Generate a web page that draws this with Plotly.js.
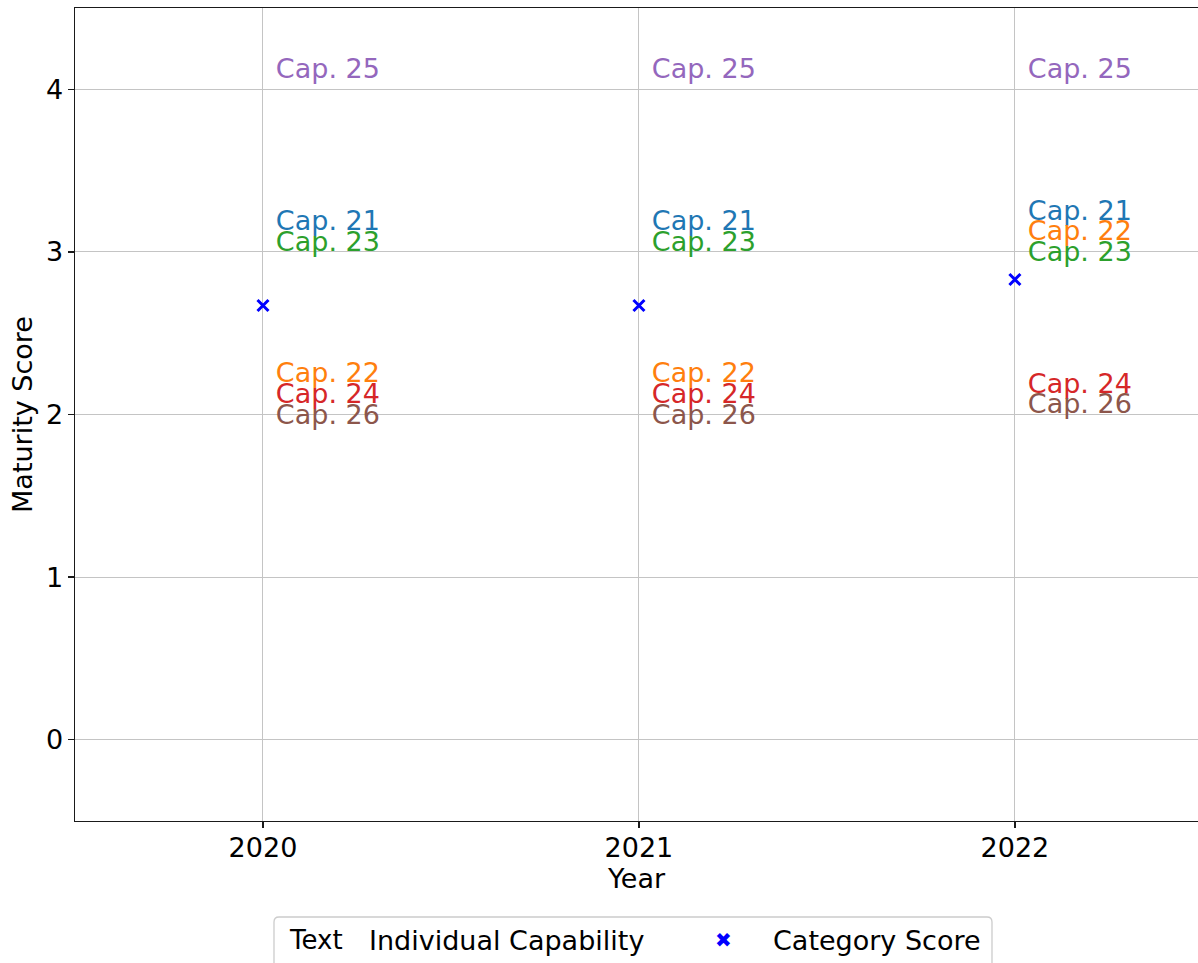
<!DOCTYPE html>
<html>
<head>
<meta charset="utf-8">
<script src="https://cdn.plot.ly/plotly-3.0.1.min.js"></script>
<style>
  html, body { margin: 0; padding: 0; background: #ffffff; }
  #chart { width: 1198px; height: 963px; }
</style>
</head>
<body>
<div id="chart"></div>
<script>
// ---- data ----
const years = [2020, 2021, 2022];
const yearLabels = ['2020', '2021', '2022'];
const capabilities = ['Cap. 21', 'Cap. 22', 'Cap. 23', 'Cap. 24', 'Cap. 25', 'Cap. 26'];
const cap21 = [3, 3, 3];
const cap22 = [2, 2, 3];
const cap23 = [3, 3, 3];
const cap24 = [2, 2, 2];
const cap25 = [4, 4, 4];
const cap26 = [2, 2, 2];
const categoryScore = [2.67, 2.67, 2.83];
const yTicks = [0, 1, 2, 3, 4];

// ---- styles ----
const capColors = ['#1f77b4', '#ff7f0e', '#2ca02c', '#d62728', '#9467bd', '#8c564b'];
const FONT = 'DejaVu Sans, sans-serif';
const FS = 27;

const capValues = [cap21, cap22, cap23, cap24, cap25, cap26];

// stack labels that share the same score in a year so they do not overlap
const STEP = 0.128;     // vertical spacing between stacked labels (data units)
const LIFT = 0.112;     // lift of the label group above its value
function labelY(capIdx, yearIdx) {
  const v = capValues[capIdx][yearIdx];
  const group = [];
  capValues.forEach((arr, i) => { if (arr[yearIdx] === v) group.push(i); });
  const n = group.length;
  const k = group.indexOf(capIdx);
  return v + LIFT + STEP * ((n - 1) / 2 - k);
}

const traces = capabilities.map((name, ci) => ({
  type: 'scatter',
  mode: 'markers+text',
  x: years,
  y: years.map((_, yi) => labelY(ci, yi)),
  text: years.map(() => name),
  textposition: 'middle right',
  textfont: { family: FONT, size: FS, color: capColors[ci] },
  marker: { size: 19, color: 'rgba(0,0,0,0)' },
  name: name,
  showlegend: false,
  hoverinfo: 'skip',
  cliponaxis: false
}));

traces.push({
  type: 'scatter',
  mode: 'markers',
  x: years,
  y: categoryScore,
  name: 'Category Score',
  marker: { symbol: 'x-thin', size: 11, color: '#0000ff', line: { width: 3, color: '#0000ff' } },
  showlegend: false
});

// pixel -> paper helpers for the hand-built legend
const W = 1198, H = 963, ML = 75, MR = 0, MT = 8, MB = 142;
const pw = W - ML - MR, ph = H - MT - MB;
const px = x => (x - ML) / pw;
const py = y => (H - MB - y) / ph;

const layout = {
  width: W,
  height: H,
  margin: { l: ML, r: MR, t: MT, b: MB, pad: 0 },
  paper_bgcolor: '#ffffff',
  plot_bgcolor: '#ffffff',
  font: { family: FONT, size: FS, color: '#000000' },
  showlegend: false,
  xaxis: {
    range: [2019.5, 2022.487],
    tickmode: 'array',
    tickvals: years,
    ticktext: yearLabels,
    showgrid: true,
    gridcolor: '#c4c4c4',
    gridwidth: 1,
    zeroline: false,
    showline: true,
    linecolor: '#1a1a1a',
    linewidth: 1.3,
    mirror: true,
    ticks: 'outside',
    ticklen: 6,
    tickwidth: 1.2,
    tickcolor: '#1a1a1a',
    ticklabelstandoff: -4,
    tickfont: { family: FONT, size: FS, color: '#000000' },
    title: { text: 'Year', font: { family: FONT, size: FS, color: '#000000' }, standoff: 4 }
  },
  yaxis: {
    range: [-0.5, 4.5],
    tickmode: 'array',
    tickvals: yTicks,
    ticktext: yTicks.map(String),
    showgrid: true,
    gridcolor: '#c4c4c4',
    gridwidth: 1,
    zeroline: false,
    showline: true,
    linecolor: '#1a1a1a',
    linewidth: 1.3,
    mirror: false,
    ticks: 'outside',
    ticklen: 6,
    tickwidth: 1.2,
    tickcolor: '#1a1a1a',
    ticklabelstandoff: -1,
    tickfont: { family: FONT, size: FS, color: '#000000' },
    title: { text: 'Maturity Score', font: { family: FONT, size: FS, color: '#000000' }, standoff: 5 }
  },
  shapes: [
    {
      type: 'path', xref: 'paper', yref: 'paper',
      path: (function () {
        const x0 = px(274), x1 = px(992), y0 = py(917), y1 = py(975);
        const rx = 5 / pw, ry = 5 / ph;
        return `M ${x0 + rx},${y0} L ${x1 - rx},${y0} Q ${x1},${y0} ${x1},${y0 - ry} L ${x1},${y1} L ${x0},${y1} L ${x0},${y0 - ry} Q ${x0},${y0} ${x0 + rx},${y0} Z`;
      })(),
      line: { color: '#cccccc', width: 1.3 },
      fillcolor: 'rgba(255,255,255,0.8)'
    }
  ],
  annotations: [
    { xref: 'paper', yref: 'paper', x: px(287), y: py(940), xanchor: 'left', yanchor: 'middle',
      text: 'Text', showarrow: false, font: { family: FONT, size: 26, color: '#000000' } },
    { xref: 'paper', yref: 'paper', x: px(367), y: py(940), xanchor: 'left', yanchor: 'middle',
      text: 'Individual Capability', showarrow: false, font: { family: FONT, size: FS, color: '#000000' } },
    { xref: 'paper', yref: 'paper', x: px(723), y: py(940), xanchor: 'center', yanchor: 'middle',
      text: '✖', showarrow: false, font: { family: FONT, size: 20, color: '#0000ff' } },
    { xref: 'paper', yref: 'paper', x: px(771), y: py(940), xanchor: 'left', yanchor: 'middle',
      text: 'Category Score', showarrow: false, font: { family: FONT, size: FS, color: '#000000' } }
  ]
};

Plotly.newPlot('chart', traces, layout, { displayModeBar: false, staticPlot: true });
</script>
</body>
</html>
